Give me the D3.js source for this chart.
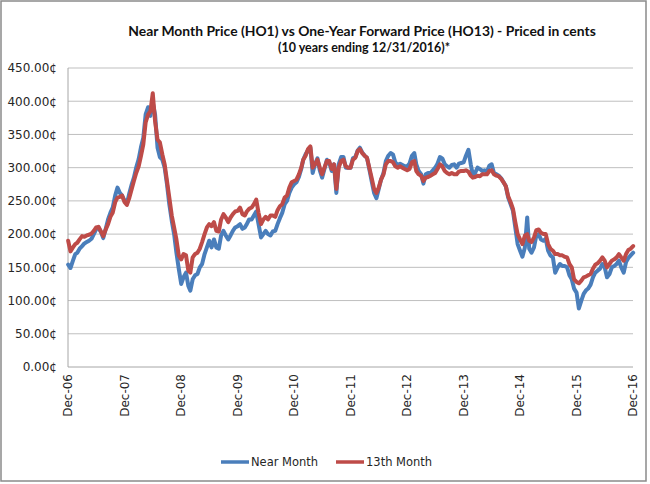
<!DOCTYPE html>
<html><head><meta charset="utf-8">
<script src="https://cdn.jsdelivr.net/npm/d3@7"></script>
<style>body{margin:0;background:#fff} svg{display:block}</style>
</head><body>
<svg id="c" width="650" height="484"></svg>
<script>
const titleText = "Near Month Price (HO1) vs One-Year Forward Price (HO13) - Priced in cents";
const subtitleText = "(10 years ending 12/31/2016)*";
const seriesNames = ["Near Month", "13th Month"];
const seriesColors = ["#4A7EBB", "#BE4B48"];
const yTicks = [0, 50, 100, 150, 200, 250, 300, 350, 400, 450];
const xTickLabels = ["Dec-06","Dec-07","Dec-08","Dec-09","Dec-10","Dec-11","Dec-12","Dec-13","Dec-14","Dec-15","Dec-16"];

// semi-monthly readings, Jan 2007 .. Jan 2017 (cents)
const nearMonth = [
  154,149,160,170,172,178,182,186,188,190,193,200,207,210,203,194,208,222,232,240,258,270,262,258,
  250,246,262,275,285,300,313,331,345,380,391,378,398,380,330,316,312,300,275,245,220,200,172,148,
  125,135,142,122,115,132,138,140,150,155,170,180,190,180,192,180,178,198,205,198,192,198,205,210,
  212,215,208,210,215,222,222,228,234,215,195,200,205,200,198,204,205,215,224,232,245,250,262,270,
  275,278,286,298,312,320,326,330,292,305,314,296,285,298,312,308,295,305,262,305,316,316,300,300,
  300,314,316,326,330,323,318,315,298,280,262,254,268,282,292,310,318,322,320,308,304,306,304,302,
  302,306,318,322,305,295,290,276,290,292,292,296,300,306,316,314,305,302,300,304,305,300,306,307,
  308,318,327,305,290,292,300,298,295,296,294,303,305,292,290,288,284,278,272,255,245,235,210,185,
  175,166,180,225,178,172,180,198,200,192,190,193,175,168,165,142,150,155,152,152,150,138,132,118,
  112,88,100,110,115,118,124,135,142,145,148,155,150,135,140,150,152,155,160,150,142,158,164,168,172
];
const thirteenthMonth = [
  190,174,180,185,187,192,197,196,198,199,201,205,210,211,204,197,207,215,226,232,248,255,256,258,
  248,244,255,268,280,292,302,318,335,368,380,385,412,370,342,338,320,305,280,255,228,210,192,168,
  162,170,168,145,142,165,170,172,178,188,200,210,215,212,218,205,204,222,230,225,218,225,230,234,
  235,240,230,228,234,238,240,245,252,232,215,222,226,222,228,228,226,236,242,245,255,258,270,278,
  280,282,290,300,312,318,328,332,300,305,312,300,290,300,310,310,298,305,268,300,310,312,302,300,
  300,312,315,325,328,322,318,315,300,285,268,262,270,282,290,305,310,310,308,302,300,302,300,298,
  296,298,308,310,295,290,288,280,285,286,288,290,292,298,305,302,295,292,290,292,290,290,294,295,
  295,296,294,288,285,286,288,287,290,290,290,295,296,290,288,287,283,278,272,257,248,238,218,200,
  192,185,198,200,190,188,195,206,207,202,200,200,185,178,175,170,170,168,168,166,165,155,150,132,
  128,126,130,135,136,138,140,148,154,156,160,165,160,150,155,160,162,165,170,165,160,170,176,178,182
];
const dates = nearMonth.map((_, k) => new Date(2007 + Math.floor(k / 24), Math.floor((k % 24) / 2), k % 2 ? 16 : 1));
const xTickDates = xTickLabels.map((_, i) => new Date(2006 + i, 11, 31));

const svg = d3.select("#c");
const L = 68, R = 633, T = 68, B = 367;

svg.append("rect").attr("x", 1).attr("y", 1).attr("width", 645).attr("height", 480)
  .attr("fill", "#fff").attr("stroke", "#8a8a8a").attr("stroke-width", 1.5);

const x = d3.scaleTime().domain([xTickDates[0], xTickDates[xTickDates.length - 1]]).range([L, R]);
const y = d3.scaleLinear().domain([0, 450]).range([B, T]);

// gridlines
svg.append("g").selectAll("line").data(yTicks.filter(d => d > 0)).join("line")
  .attr("x1", L).attr("x2", R).attr("y1", d => y(d)).attr("y2", d => y(d))
  .attr("stroke", "#bfbfbf").attr("stroke-width", 1);

// axes lines
svg.append("line").attr("x1", L).attr("x2", L).attr("y1", T).attr("y2", B).attr("stroke", "#a6a6a6");
svg.append("line").attr("x1", L).attr("x2", R).attr("y1", B).attr("y2", B).attr("stroke", "#a6a6a6");

// y labels
svg.append("g").selectAll("text").data(yTicks).join("text")
  .attr("x", 57).attr("y", d => y(d)).attr("dy", "0.36em").attr("text-anchor", "end")
  .attr("font-family", "DejaVu Sans").attr("font-size", 12).attr("fill", "#262626")
  .text(d => d3.format(".2f")(d) + "\u00A2");

// x labels
svg.append("g").selectAll("text").data(xTickDates).join("text")
  .attr("transform", d => `translate(${x(d)},374) rotate(-90)`)
  .attr("dy", "0.36em").attr("text-anchor", "end")
  .attr("font-family", "DejaVu Sans").attr("font-size", 12).attr("fill", "#262626")
  .text((d, i) => xTickLabels[i]);

// series
const line = d3.line().x((d, i) => x(dates[i])).y(d => y(d));
[nearMonth, thirteenthMonth].forEach((s, i) => {
  svg.append("path").attr("d", line(s)).attr("fill", "none")
    .attr("stroke", seriesColors[i]).attr("stroke-width", 4)
    .attr("stroke-linejoin", "round").attr("stroke-linecap", "round");
});

// titles
function fitText(sel, target) {
  const w = sel.node().getComputedTextLength();
  const fs = parseFloat(sel.attr("font-size"));
  sel.attr("font-size", fs * target / w);
}
const t1 = svg.append("text").attr("x", 362).attr("y", 36).attr("text-anchor", "middle")
  .attr("font-family", "Lato").attr("font-weight", "bold").attr("font-size", 15).attr("fill", "#111")
  .text(titleText);
fitText(t1, 468);
const t2 = svg.append("text").attr("x", 364).attr("y", 52).attr("text-anchor", "middle")
  .attr("font-family", "Lato").attr("font-weight", "bold").attr("font-size", 11).attr("fill", "#111")
  .text(subtitleText);
fitText(t2, 172);

// legend
const legX = [221, 336];
seriesNames.forEach((n, i) => {
  svg.append("line").attr("x1", legX[i]).attr("x2", legX[i] + 28).attr("y1", 462).attr("y2", 462)
    .attr("stroke", seriesColors[i]).attr("stroke-width", 3.5);
  svg.append("text").attr("x", legX[i] + 30).attr("y", 462).attr("dy", "0.36em")
    .attr("font-family", "DejaVu Sans").attr("font-size", 11.5).attr("fill", "#262626").text(n);
});
</script>
</body></html>
